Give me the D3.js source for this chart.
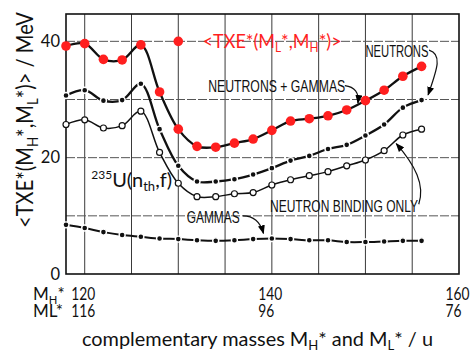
<!DOCTYPE html>
<html><head><meta charset="utf-8">
<script src="https://cdn.jsdelivr.net/npm/d3@7"></script>
<style>body{margin:0;background:#fff}svg{display:block}</style>
</head><body>
<script>
// Heavy fragment mass M_H* (u); light partner is M_L* = 236 - M_H*
const massH = [118,120,122,124,126,128,130,132,134,136,138,140,142,144,146,148,150,152,154,156];
// Total excitation energy shared as neutrons + gammas (MeV)
const txeTotal = [39.2,39.6,36.9,36.8,39.4,31.3,24.9,21.95,21.8,22.5,23.2,24.7,26.3,26.7,27.2,28.2,29.8,31.6,34.0,35.7];
// Neutrons only
const txeNeutrons = [30.7,31.6,29.8,29.9,32.7,24.9,18.6,15.9,15.9,16.3,17.1,18.2,19.5,20.3,21.5,22.2,23.8,25.7,28.6,29.9];
// Neutron binding energy only
const txeBinding = [25.7,26.5,25.1,25.5,28.0,20.9,15.6,13.3,13.3,13.8,14.0,15.3,16.2,16.9,17.6,18.6,19.6,21.2,23.9,24.9];
// Gammas
const txeGammas = [8.45,7.9,7.2,6.7,6.4,6.1,6.0,5.8,5.7,5.8,6.0,6.1,6.0,5.8,5.8,5.5,5.5,5.6,5.7,5.7];

const tickH = [120,140,160];
const tickL = [116,96,76];
const tickY = [0,20,40];
const gridX = [120,125,130,135,140,145,150,155];
const gridY = [10,20,30,40];

const W = 470, H = 354;
const FONT = "Lato, 'Open Sans', sans-serif";
const CAPS = "'Liberation Sans', Arial, sans-serif";
const RED = "#ff1f1f";

const svg = d3.select("body").append("svg").attr("width", W).attr("height", H);
const x = d3.scaleLinear().domain([118,160]).range([66,459]);
const y = d3.scaleLinear().domain([0,44.7]).range([274,14]);

svg.append("defs").append("marker")
  .attr("id","arr").attr("markerUnits","userSpaceOnUse")
  .attr("markerWidth",9).attr("markerHeight",7).attr("refX",8).attr("refY",3.5)
  .attr("orient","auto")
  .append("path").attr("d","M0,0 L9,3.5 L0,7 Z").attr("fill","#000");

// grid
const grid = svg.append("g");
grid.selectAll(".gx").data(gridX).join("line")
  .attr("x1", d => x(d)).attr("x2", d => x(d))
  .attr("y1", y.range()[1]).attr("y2", y.range()[0])
  .attr("stroke","#3a3a3a").attr("stroke-width",1);
grid.selectAll(".gy").data(gridY).join("line")
  .attr("x1", x.range()[0]).attr("x2", x.range()[1])
  .attr("y1", d => y(d)).attr("y2", d => y(d))
  .attr("stroke","#555").attr("stroke-width",1).attr("stroke-dasharray","9,2");
// frame
svg.append("rect")
  .attr("x", x.range()[0]).attr("y", y.range()[1])
  .attr("width", x.range()[1]-x.range()[0]).attr("height", y.range()[0]-y.range()[1])
  .attr("fill","none").attr("stroke","#111").attr("stroke-width",1.6);

// y axis labels
const yAxis = svg.append("g").attr("transform",`translate(${x.range()[0]},0)`)
  .call(d3.axisLeft(y).tickValues(tickY).tickSize(0).tickPadding(6));
yAxis.select(".domain").remove();
yAxis.selectAll("text").attr("font-family",FONT).attr("font-size",16.5).attr("fill","#111");

// x axis labels, two rows (heavy / light mass)
function massRow(vals, fmt, base){
  const g = svg.append("g").call(d3.axisBottom(x).tickValues(vals).tickSize(0).tickFormat(fmt));
  g.select(".domain").remove();
  g.selectAll("text").attr("dy",null).attr("y",base).attr("dx",-14)
    .attr("text-anchor","start").attr("font-family",FONT).attr("font-size",17).attr("fill","#111")
    .attr("textLength", function(){ return this.textContent.length * 8.0; })
    .attr("lengthAdjust","spacingAndGlyphs");
}
massRow(tickH, d => d, 300);
massRow(tickH, (d,i) => tickL[i], 317);

function subText(g, parts, size){
  const t = g.append("text").attr("font-family",FONT).attr("font-size",size);
  let shift = 0;
  parts.forEach(p => {
    const s = p.sub ? size*0.22 : 0;
    t.append("tspan").text(p.t).attr("dy", s - shift).attr("font-size", p.sub ? size*0.66 : size);
    shift = s;
  });
  return t;
}
// row captions
subText(svg, [{t:"M"},{t:"H",sub:true},{t:"*"}], 17).attr("x",33).attr("y",300).attr("fill","#111");
svg.append("text").text("ML*").attr("x",33).attr("y",317).attr("font-family",FONT).attr("font-size",17).attr("fill","#111");

// axis titles
subText(svg, [{t:"complementary masses M"},{t:"H",sub:true},{t:"* and M"},{t:"L",sub:true},{t:"* / u"}], 19)
  .attr("x",82).attr("y",346).attr("textLength",351).attr("lengthAdjust","spacingAndGlyphs").attr("fill","#111");
subText(svg.append("g").attr("transform","translate(33,228) rotate(-90)"),
  [{t:"<TXE*(M"},{t:"H",sub:true},{t:"*,M"},{t:"L",sub:true},{t:"*)> / MeV"}], 23)
  .attr("x",0).attr("y",0).attr("textLength",216).attr("lengthAdjust","spacingAndGlyphs").attr("fill","#111");

// curves
const line = d3.line().x((d,i) => x(massH[i])).y(d => y(d)).curve(d3.curveCatmullRom.alpha(0.5));
const plot = svg.append("g");
function series(vals, lw){
  plot.append("path").datum(vals).attr("d", line).attr("fill","none")
    .attr("stroke","#111").attr("stroke-width",lw);
}
series(txeGammas, 2);
series(txeBinding, 1.5);
series(txeNeutrons, 2.3);
series(txeTotal, 2.3);

plot.selectAll(".dg").data(txeGammas).join("circle")
  .attr("cx",(d,i)=>x(massH[i])).attr("cy",d=>y(d)).attr("r",3)
  .attr("fill","#111").attr("stroke","#fff").attr("stroke-width",1.4);
plot.selectAll(".dn").data(txeNeutrons).join("circle")
  .attr("cx",(d,i)=>x(massH[i])).attr("cy",d=>y(d)).attr("r",3)
  .attr("fill","#111").attr("stroke","#fff").attr("stroke-width",1.4);
plot.selectAll(".db").data(txeBinding).join("circle")
  .attr("cx",(d,i)=>x(massH[i])).attr("cy",d=>y(d)).attr("r",3)
  .attr("fill","#fff").attr("stroke","#111").attr("stroke-width",1.2);
plot.selectAll(".dt").data(txeTotal).join("circle")
  .attr("cx",(d,i)=>x(massH[i])).attr("cy",d=>y(d)).attr("r",4.8)
  .attr("fill",RED);

// legend marker for the red series
svg.append("circle").attr("cx",x(130)).attr("cy",y(40)).attr("r",4.8).attr("fill",RED);
subText(svg, [{t:"<TXE*(M"},{t:"L",sub:true},{t:"*,M"},{t:"H",sub:true},{t:"*)>"}], 20)
  .attr("x",x(132.6)).attr("y",y(38.85)).attr("textLength",139).attr("lengthAdjust","spacingAndGlyphs")
  .attr("fill",RED);

// reaction label
const rx = svg.append("text").attr("x",x(120.7)).attr("y",y(14.96)).attr("font-family",FONT).attr("fill","#111");
rx.append("tspan").text("235").attr("font-size",12).attr("dy",-8);
rx.append("tspan").text("U(n").attr("font-size",20).attr("dy",8);
rx.append("tspan").text("th").attr("font-size",13).attr("dy",4);
rx.append("tspan").text(",f)").attr("font-size",20).attr("dy",-4);

// curve captions with leader arrows
function caption(txt, mx, my, len){
  svg.append("text").text(txt).attr("x",x(mx)).attr("y",y(my))
    .attr("font-family",CAPS).attr("font-size",16).attr("fill","#111")
    .attr("textLength",len).attr("lengthAdjust","spacingAndGlyphs");
}
function leader(pts){
  const p = pts.map(q => [x(q[0]), y(q[1])]);
  const d = p.length === 3
    ? `M${p[0]}Q${p[1]} ${p[2]}`
    : `M${p[0]}C${p[1]} ${p[2]} ${p[3]}`;
  svg.append("path").attr("d",d).attr("fill","none").attr("stroke","#111")
    .attr("stroke-width",1.2).attr("marker-end","url(#arr)");
}
caption("NEUTRONS + GAMMAS", 133.2, 31.3, 137);
leader([[147.8,32.4],[149.4,32.1],[149.2,29.4]]);
caption("NEUTRONS", 150.0, 37.3, 63);
leader([[156.8,38.5],[158.3,37.8],[157.6,35.0],[156.7,30.8]]);
caption("NEUTRON BINDING ONLY", 139.8, 10.66, 148);
leader([[155.7,12.0],[156.4,15.3],[155.3,18.7],[153.3,22.4]]);
caption("GAMMAS", 130.9, 8.77, 53);
leader([[136.9,10.0],[138.6,10.0],[139.1,7.0]]);
</script>
</body></html>
